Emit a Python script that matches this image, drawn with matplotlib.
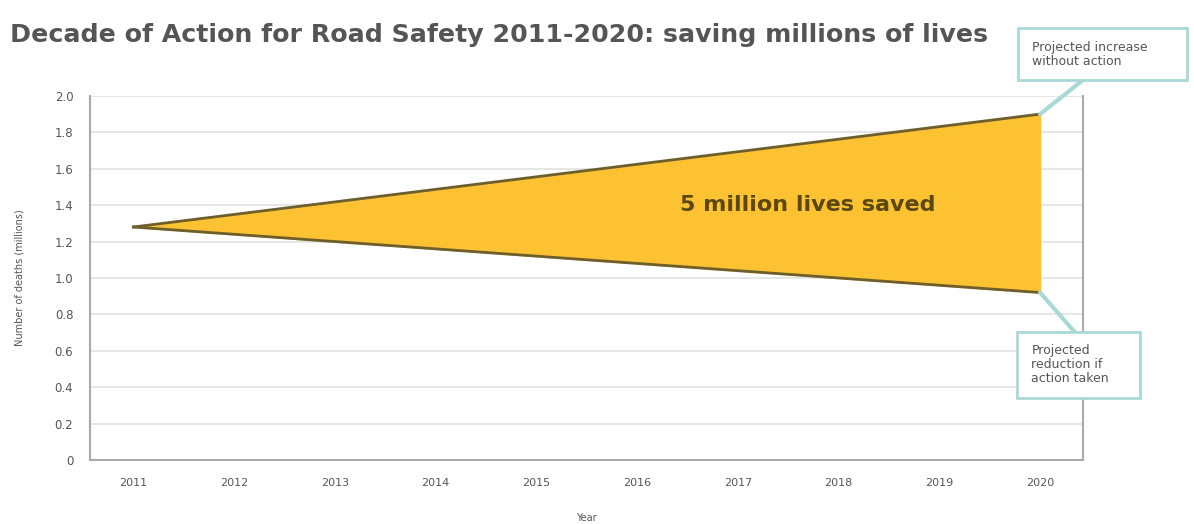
import matplotlib.pyplot as plt
from matplotlib.patches import Rectangle

# ------ data ---------------------------
years = [2011, 2020]
without_action = [1.28, 1.90]
with_action = [1.28, 0.92]
tick_years = list(range(2011, 2021))
y_ticks = [0, 0.2, 0.4, 0.6, 0.8, 1.0, 1.2, 1.4, 1.6, 1.8, 2.0]
y_tick_labels = ['0', '0.2', '0.4', '0.6', '0.8', '1.0', '1.2', '1.4', '1.6', '1.8', '2.0']
# ---------------------------------------

grey = '#555555'
teal = '#a9d9d6'

fig = plt.figure(figsize=(11.94, 5.24), dpi=100)
ax = fig.add_axes([0.0754, 0.122, 0.832, 0.695])

ax.fill_between(years, with_action, without_action, color='#fdc232', zorder=2)
ax.plot(years, without_action, color='#6e5e2c', lw=2, zorder=3)
ax.plot(years, with_action, color='#6e5e2c', lw=2, zorder=3)

ax.set_xlim(2010.57, 2020.43)
ax.set_ylim(0, 2.0)
ax.set_xticks(tick_years)
ax.set_xticklabels([str(y) for y in tick_years], fontsize=8, color=grey)
ax.set_yticks(y_ticks)
ax.set_yticklabels(y_tick_labels, fontsize=8.5, color=grey)
ax.tick_params(length=0, pad=12)
ax.tick_params(axis='x', pad=13)
ax.grid(axis='y', color='#e2e2e2', lw=1.2, zorder=0)
for side in ['left', 'bottom', 'right']:
	ax.spines[side].set_color('#aaaaaa')
	ax.spines[side].set_linewidth(1.5)
ax.spines['top'].set_visible(False)

ax.set_xlabel('Year', fontsize=7, color=grey, labelpad=18)
ax.set_ylabel('Number of deaths (millions)', fontsize=7, color=grey, labelpad=22)

ax.text(2017.69, 1.40, '5 million lives saved', fontsize=16, fontweight='bold',
	color='#5a4810', ha='center', va='center', zorder=4)

fig.text(0.008, 0.933, 'Decade of Action for Road Safety 2011-2020: saving millions of lives',
	fontsize=18.2, fontweight='bold', color=grey, ha='left', va='center')

# ------ callouts -----------------------
def callout(x0, y0, w, h, text, tail, point):
	fig.add_artist(Rectangle((x0, y0), w, h, transform=fig.transFigure,
		fc='white', ec=teal, lw=2, zorder=5))
	fig.text(x0 + 0.012, y0 + h / 2, text, fontsize=9, color=grey,
		ha='left', va='center', zorder=6, linespacing=1.1)
	ax.annotate('', xy=point, xycoords='data', xytext=tail,
		textcoords='figure fraction',
		arrowprops=dict(arrowstyle='-', color=teal, lw=3, shrinkA=0, shrinkB=0))

callout(0.8526, 0.8473, 0.1415, 0.0992, 'Projected increase\nwithout action',
	(0.907, 0.8473), (years[1], without_action[1]))
callout(0.8518, 0.2405, 0.103, 0.126, 'Projected\nreduction if\naction taken',
	(0.900, 0.3665), (years[1], with_action[1]))

fig.savefig('out.png', dpi=100)
